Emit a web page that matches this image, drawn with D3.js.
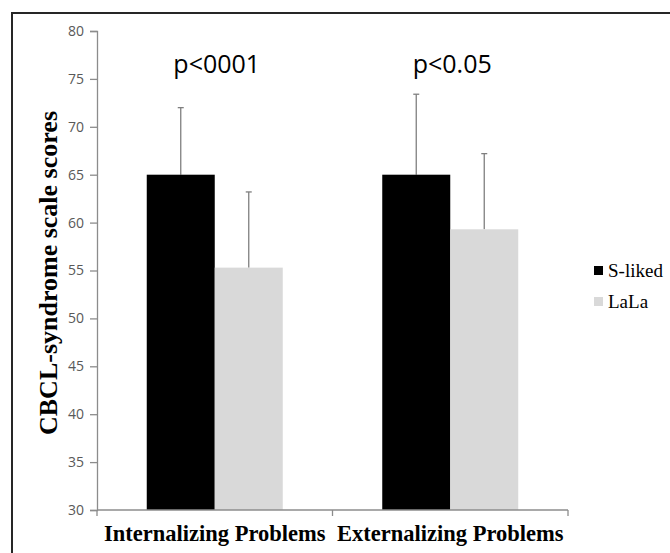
<!DOCTYPE html>
<html>
<head>
<meta charset="utf-8">
<script src="https://cdn.jsdelivr.net/npm/d3@7"></script>
<style>
  body { margin: 0; background: #fff; }
  svg { display: block; }
</style>
</head>
<body>
<svg id="chart"></svg>
<script>
// data
let categories = ['Internalizing Problems', 'Externalizing Problems']
let groups = ['S-liked', 'LaLa']
let sLiked = [65.0, 65.0]
let sLikedErr = [72.0, 73.4]
let lala = [55.3, 59.3]
let lalaErr = [63.2, 67.2]
let pLabels = ['p<0001', 'p<0.05']
let yTicks = [30, 35, 40, 45, 50, 55, 60, 65, 70, 75, 80]
let colors = ['#000000', '#d9d9d9']

let W = 670, H = 553
let svg = d3.select('#chart').attr('width', W).attr('height', H)

// outer frame (cropped at right/bottom)
svg.append('rect')
  .attr('x', 12).attr('y', 13)
  .attr('width', 700).attr('height', 600)
  .attr('fill', 'none').attr('stroke', '#262626').attr('stroke-width', 2)

let mLeft = 97, mRight = 568, mTop = 31, mBottom = 510

let x = d3.scaleBand().domain(categories).range([mLeft, mRight])
let xs = d3.scaleBand().domain(groups).range([0, 136])
let y = d3.scaleLinear().domain([30, 80]).range([mBottom, mTop])

let rows = categories.map((c, i) => ({
  cat: c,
  p: pLabels[i],
  vals: [
    {g: groups[0], v: sLiked[i], e: sLikedErr[i]},
    {g: groups[1], v: lala[i], e: lalaErr[i]}
  ]
}))

let off = (x.bandwidth() - 136) / 2

let cg = svg.selectAll('.cat').data(rows).enter().append('g')
  .attr('class', 'cat')
  .attr('transform', d => `translate(${x(d.cat) + off},0)`)

// error bars (behind bars)
cg.selectAll('.err').data(d => d.vals).enter().append('g').attr('class', 'err')
  .each(function(d) {
    let g = d3.select(this)
    let cx = xs(d.g) + xs.bandwidth() / 2
    g.append('line').attr('x1', cx).attr('x2', cx).attr('y1', y(d.v)).attr('y2', y(d.e))
      .attr('stroke', '#7f7f7f').attr('stroke-width', 1.3)
    g.append('line').attr('x1', cx - 3).attr('x2', cx + 3).attr('y1', y(d.e)).attr('y2', y(d.e))
      .attr('stroke', '#7f7f7f').attr('stroke-width', 1.3)
  })

cg.selectAll('rect').data(d => d.vals).enter().append('rect')
  .attr('x', d => xs(d.g))
  .attr('width', xs.bandwidth())
  .attr('y', d => y(d.v))
  .attr('height', d => y(30) - y(d.v))
  .attr('fill', (d, i) => colors[i])

// p-value labels
svg.selectAll('.plab').data(rows).enter().append('text')
  .attr('class', 'plab')
  .attr('x', d => x(d.cat) + x.bandwidth() / 2 + 2)
  .attr('y', 73)
  .attr('text-anchor', 'middle')
  .attr('font-family', '"Open Sans", sans-serif')
  .attr('font-size', 25)
  .attr('fill', '#000')
  .text(d => d.p)

// y axis
let yAxis = svg.append('g').attr('transform', `translate(${mLeft},0)`)
  .call(d3.axisLeft(y).tickValues(yTicks).tickSize(7).tickPadding(6))
yAxis.select('.domain').attr('stroke', '#8c8c8c').attr('stroke-width', 1.3)
yAxis.selectAll('.tick line').attr('stroke', '#8c8c8c').attr('stroke-width', 1.3)
yAxis.selectAll('.tick text')
  .attr('font-family', '"Open Sans", sans-serif')
  .attr('font-size', 14)
  .attr('fill', '#595959')

// x axis
let xAxis = svg.append('g').attr('transform', `translate(0,${mBottom})`)
  .call(d3.axisBottom(x).tickSize(0).tickPadding(20))
xAxis.select('.domain').remove()
xAxis.append('line').attr('x1', mLeft).attr('x2', mRight).attr('stroke', '#8c8c8c').attr('stroke-width', 1.3)
xAxis.selectAll('.sep').data([mLeft, x(categories[1]), mRight]).enter().append('line')
  .attr('x1', d => d).attr('x2', d => d).attr('y1', 0).attr('y2', 6)
  .attr('stroke', '#8c8c8c').attr('stroke-width', 1.3)
xAxis.selectAll('.tick text')
  .attr('font-family', '"Liberation Serif", "Times New Roman", serif')
  .attr('font-weight', 'bold')
  .attr('font-size', 22.5)
  .attr('fill', '#000')
  .attr('dy', 0).attr('y', 31)

// y title
svg.append('text')
  .attr('transform', 'translate(57,273) rotate(-90)')
  .attr('text-anchor', 'middle')
  .attr('font-family', '"Liberation Serif", "Times New Roman", serif')
  .attr('font-weight', 'bold')
  .attr('font-size', 26)
  .text('CBCL-syndrome scale scores')

// legend
let leg = svg.selectAll('.leg').data(groups).enter().append('g')
  .attr('class', 'leg')
  .attr('transform', (d, i) => `translate(594,${266 + i * 31})`)
leg.append('rect').attr('width', 9).attr('height', 9).attr('fill', (d, i) => colors[i])
leg.append('text').attr('x', 14).attr('y', 11)
  .attr('font-family', '"Liberation Serif", "Times New Roman", serif')
  .attr('font-size', 19)
  .text(d => d)
</script>
</body>
</html>
